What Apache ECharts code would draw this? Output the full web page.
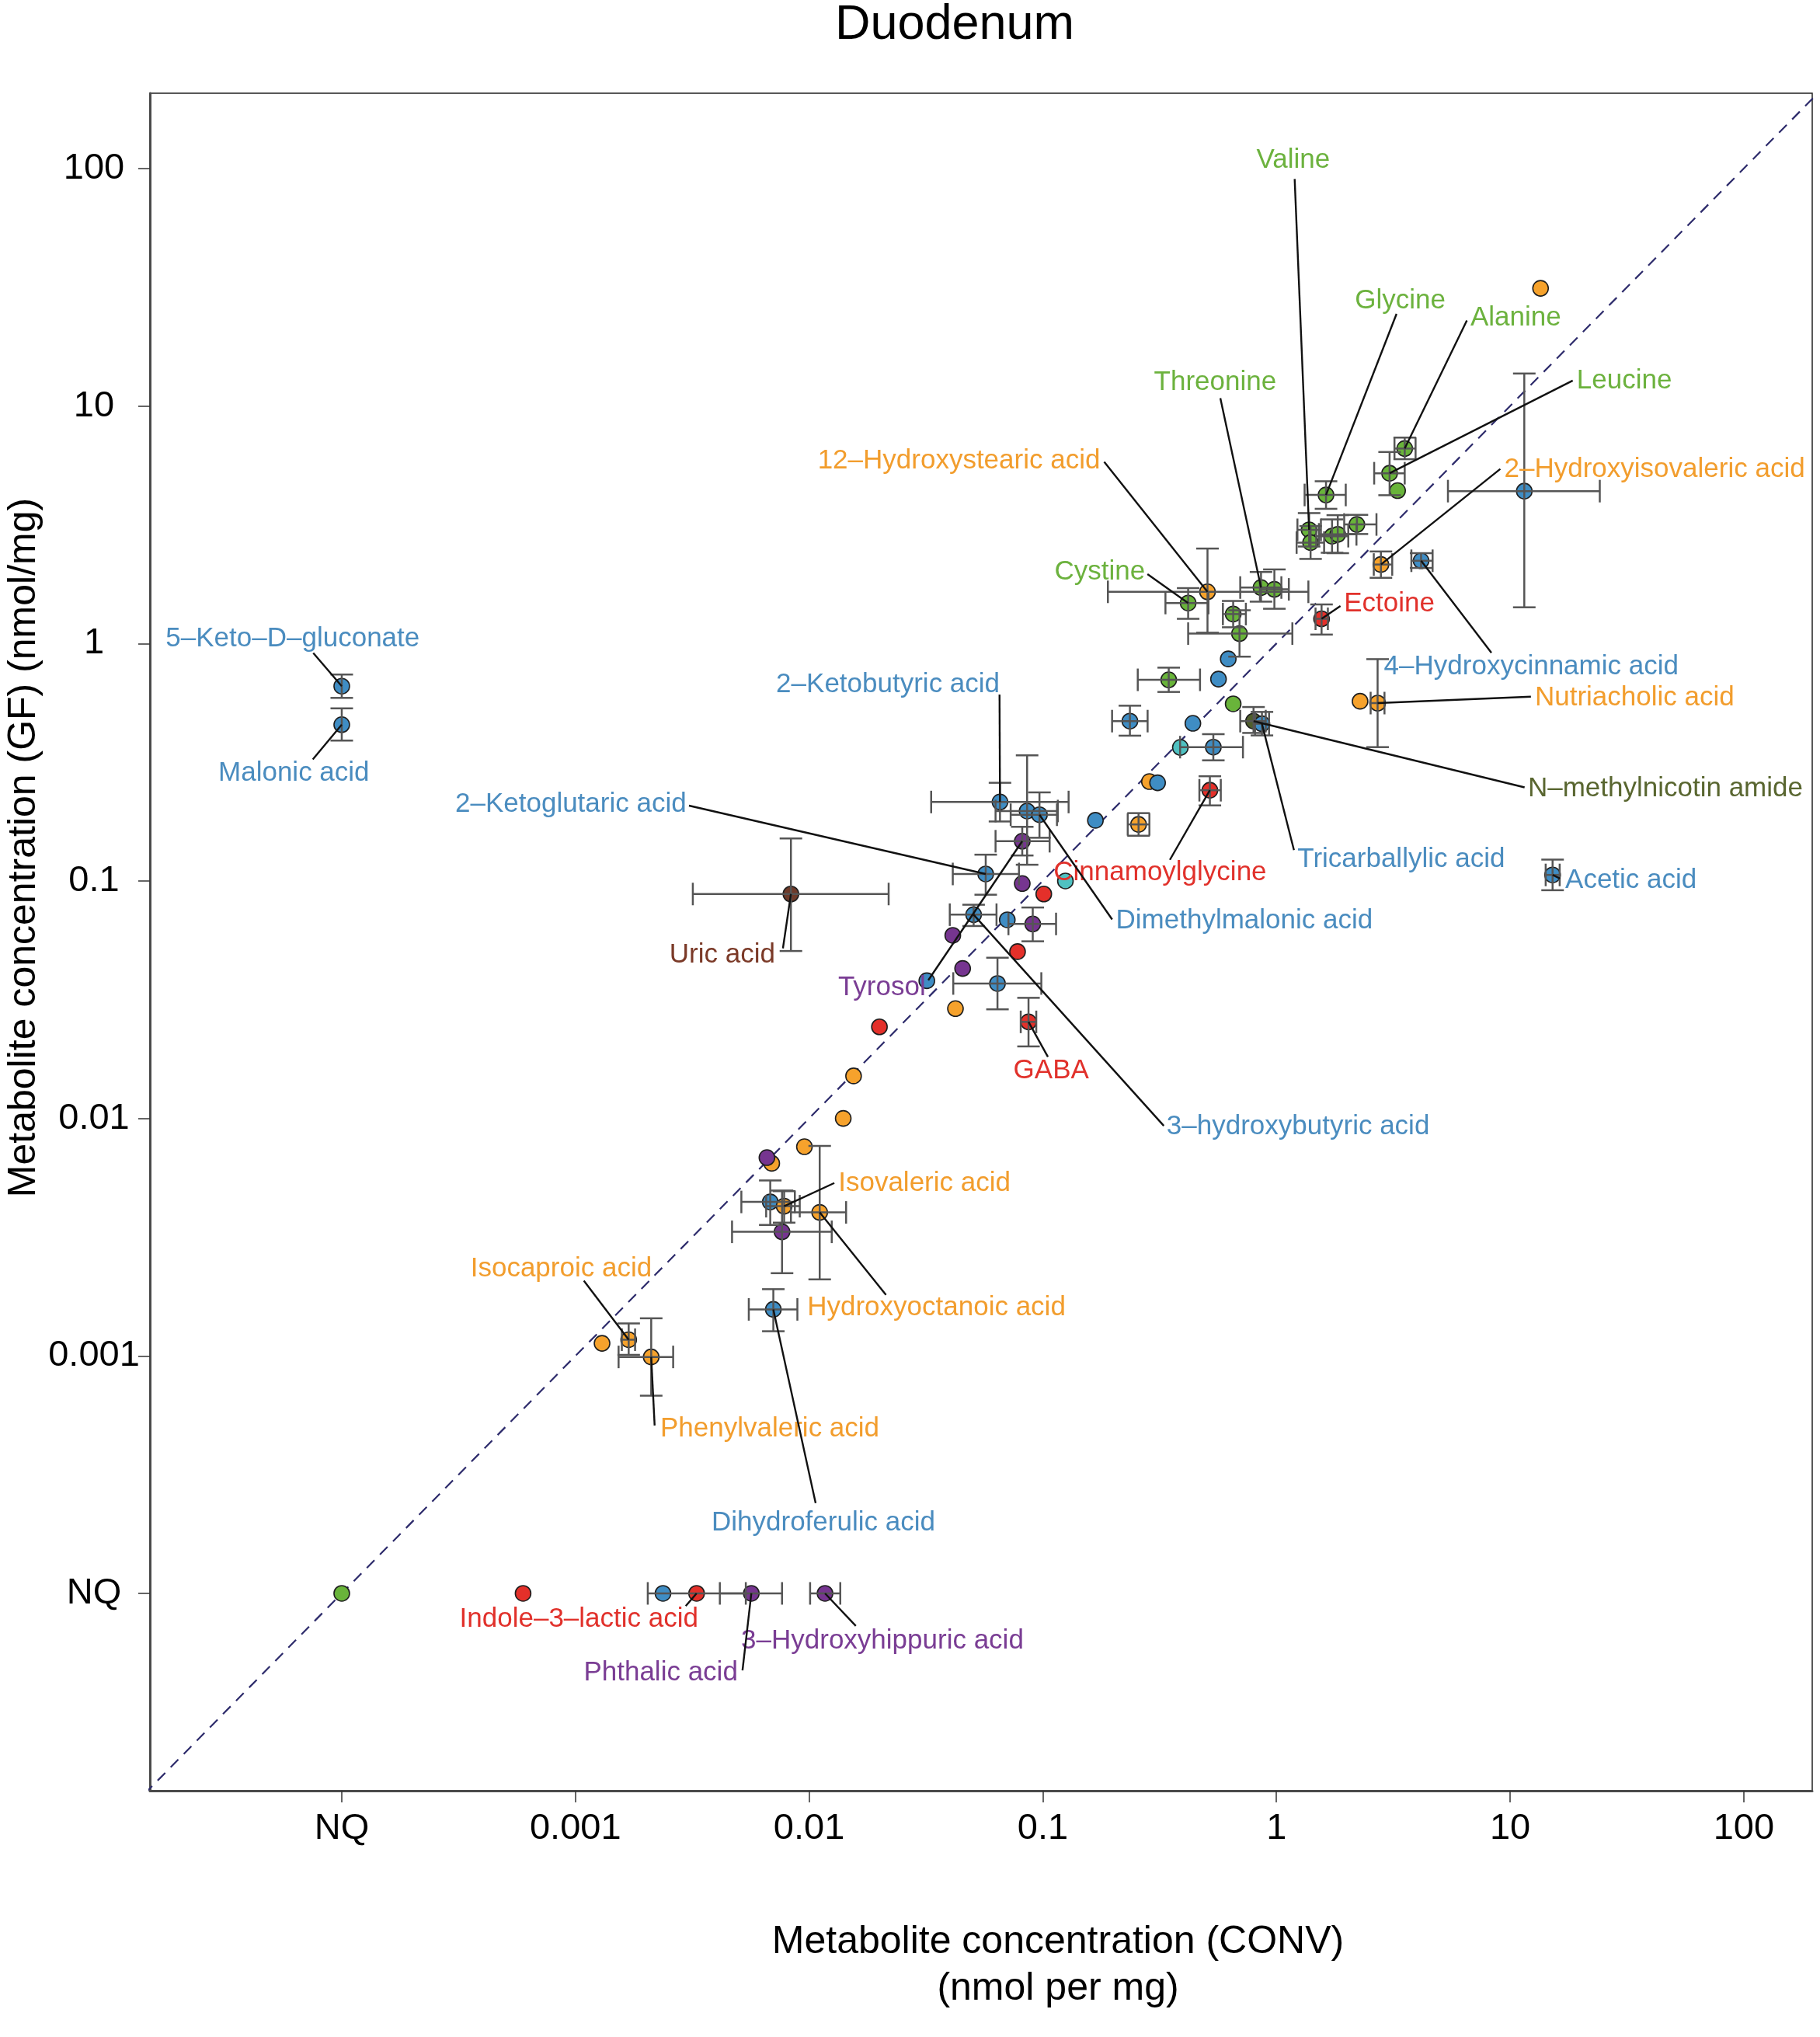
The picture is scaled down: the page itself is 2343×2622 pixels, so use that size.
<!DOCTYPE html>
<html><head><meta charset="utf-8">
<script src="https://cdn.jsdelivr.net/npm/echarts@6/dist/echarts.min.js"></script>
<style>html,body{margin:0;padding:0;background:#fff;}#c{width:2343px;height:2622px;}</style>
</head><body><div id="c"></div>
<script>
// ---------- data ----------
const NQ = 'NQ';
const NQ_POSITION = 1e-4;           // where "not quantified" values are placed
const tickValues = [1e-4, 1e-3, 1e-2, 1e-1, 1, 10, 100];
const tickLabels = ['NQ', '0.001', '0.01', '0.1', '1', '10', '100'];

const names = [
 'Valine','','','','','Glycine','Alanine','Leucine','','',
 '','2–Hydroxyisovaleric acid','4–Hydroxycinnamic acid','Threonine','','12–Hydroxystearic acid','Cystine','','','Ectoine',
 '','','','','','','N–methylnicotin amide','Tricarballylic acid','','Nutriacholic acid',
 '','','','','Cinnamoylglycine','','','2–Ketobutyric acid','','Dimethylmalonic acid',
 'Tyrosol','2–Ketoglutaric acid','','','','3–hydroxybutyric acid','','','','',
 '','','','','GABA','Uric acid','','','','',
 '','','','Isovaleric acid','Hydroxyoctanoic acid','','Dihydroferulic acid','','Isocaproic acid','Phenylvaleric acid',
 '5–Keto–D–gluconate','Malonic acid','','','','Indole–3–lactic acid','Phthalic acid','3–Hydroxyhippuric acid','Acetic acid'
];
const groups = [
 'G','G','G','G','G','G','G','G','G','B',
 'O','O','B','G','G','O','G','G','G','R',
 'B','G','B','G','B','B','V','B','O','O',
 'C','B','O','B','R','O','B','B','B','B',
 'P','B','P','R','C','B','B','P','P','R',
 'P','B','B','O','R','W','R','O','O','O',
 'O','P','B','O','O','P','B','O','O','O',
 'B','B','G','R','B','R','P','P','B'
];
const convValues = [
 1.38,1.40,1.73,1.83,2.21,1.63,3.54,3.05,3.30,11.5,
 13.5,2.80,4.16,0.859,0.98,0.507,0.419,0.653,0.695,1.56,
 0.622,0.346,0.565,0.653,0.236,0.439,0.798,0.867,2.28,2.71,
 0.388,0.537,0.286,0.310,0.519,0.257,0.168,0.0656,0.0857,0.0968,
 0.0817,0.0570,0.0817,0.101,0.125,0.0506,0.0705,0.0906,0.0412,0.078,
 0.0454,0.0319,0.064,0.0423,0.0869,0.00836,0.020,0.0155,0.0140,0.00955,
 0.00692,0.0066,0.00682,0.00782,0.0111,0.00766,0.00703,0.0013,0.00169,0.00211,
 NQ,NQ,NQ,0.000597,0.00237,0.0033,0.00566,0.0117,15.2
];
const gfValues = [
 3.01,2.66,2.83,2.88,3.17,4.22,6.62,5.21,4.40,4.38,
 31.3,2.15,2.23,1.72,1.69,1.65,1.48,1.33,1.10,1.27,
 0.861,0.703,0.708,0.557,0.471,0.461,0.471,0.459,0.571,0.561,
 0.365,0.366,0.262,0.259,0.241,0.173,0.180,0.215,0.197,0.190,
 0.147,0.107,0.0975,0.0881,0.100,0.0721,0.0686,0.0659,0.059,0.0504,
 0.0428,0.038,0.037,0.029,0.0255,0.0881,0.0243,0.0151,0.0100,0.0076,
 0.00647,0.00684,0.00445,0.00427,0.00402,0.00333,0.00157,0.00113,0.00117,0.00099,
 0.661,0.455,NQ,NQ,NQ,NQ,NQ,NQ,0.106
];
const convLow = [
 1.23,1.22,1.48,1.52,1.95,1.32,3.20,2.62,null,5.42,
 null,2.61,3.78,0.70,0.85,0.19,0.335,0.59,0.419,1.47,
 null,0.255,null,null,0.198,null,0.70,0.81,null,2.53,
 null,0.387,null,null,0.468,0.231,null,0.0333,0.0628,0.0729,
 0.0628,0.0412,null,null,null,0.040,null,0.0713,null,null,
 null,null,0.0414,null,0.0805,0.00318,null,null,null,null,
 null,null,0.00513,0.00655,0.00836,0.00468,0.00552,null,0.00158,0.00153,
 null,null,null,null,null,0.00204,0.00415,0.0101,14.2
];
const convHigh = [
 1.55,1.60,2.03,2.20,2.68,1.98,3.94,3.54,null,24.2,
 null,3.13,4.66,1.05,1.13,1.37,0.512,0.74,1.17,1.66,
 null,0.471,null,null,0.281,null,0.90,0.93,null,2.90,
 null,0.719,null,null,0.578,0.286,null,0.129,0.116,0.115,
 0.107,0.0791,null,null,null,0.0634,null,0.114,null,null,
 null,null,0.0986,null,0.0938,0.0219,null,null,null,null,
 null,null,0.00869,0.00912,0.0144,0.0125,0.00891,null,0.0018,0.00262,
 null,null,null,null,null,0.00536,0.00766,0.0136,16.3
];
const gfLow = [
 2.56,2.27,2.41,2.40,2.89,3.69,5.97,4.21,null,1.42,
 null,1.89,2.08,1.50,1.40,1.11,1.27,1.17,0.88,1.09,
 null,0.625,null,null,0.409,null,0.42,0.41,null,0.366,
 null,0.322,null,null,0.208,0.155,null,0.178,0.117,0.152,
 0.128,0.0875,null,null,null,0.0646,null,0.0557,null,null,
 null,null,0.0288,null,0.0201,0.0507,null,null,null,null,
 null,null,0.00356,0.00364,0.0021,0.00223,0.00127,null,0.00101,0.00068,
 0.59,0.39,null,null,null,null,null,null,0.0914
];
const gfHigh = [
 3.54,3.12,3.33,3.47,3.48,4.82,7.36,6.40,null,13.7,
 null,2.44,2.40,2.00,2.05,2.51,1.71,1.51,1.38,1.46,
 null,0.791,null,null,0.547,null,0.54,0.515,null,0.859,
 null,0.415,null,null,0.276,0.193,null,0.259,0.338,0.236,
 0.169,0.129,null,null,null,0.0794,null,0.0773,null,null,
 null,null,0.0475,null,0.0322,0.151,null,null,null,null,
 null,null,0.00548,0.00494,0.00766,0.00497,0.00191,null,0.00137,0.00144,
 0.74,0.533,null,null,null,null,null,null,0.123
];

// ---------- styles / layout ----------
const fillColors = {G:'#69b43a', B:'#3f8dc4', O:'#f6a22c', R:'#e4302a', P:'#763590', C:'#4fc1c1', V:'#4f5e2b', W:'#6e3a29'};
const textColors = {G:'#6cb23e', B:'#4a8cbf', O:'#f29d2d', R:'#e1312b', P:'#7a3d94', C:'#4fc1c1', V:'#596630', W:'#7b3a28'};
const FONT = '"Liberation Sans", Arial, Helvetica, sans-serif';

// label placement (log10 axis space): [name, textX, textY, align, lineStartX, lineStartY]
const labelLayout = [
 ['Valine', 0.072, 2.033, 'center', 0.078, 1.956],
 ['Glycine', 0.53, 1.443, 'center', 0.514, 1.388],
 ['Alanine', 0.83, 1.372, 'left', 0.815, 1.36],
 ['Threonine', -0.262, 1.098, 'center', -0.240, 1.033],
 ['Leucine', 1.285, 1.107, 'left', 1.268, 1.107],
 ['12–Hydroxystearic acid', -0.754, 0.770, 'right', -0.737, 0.765],
 ['2–Hydroxyisovaleric acid', 0.975, 0.732, 'left', 0.958, 0.735],
 ['Cystine', -0.562, 0.30, 'right', -0.552, 0.292],
 ['Ectoine', 0.289, 0.167, 'left', 0.274, 0.158],
 ['4–Hydroxycinnamic acid', 0.46, -0.098, 'left', 0.92, -0.039],
 ['Nutriacholic acid', 1.106, -0.229, 'left', 1.089, -0.224],
 ['5–Keto–D–gluconate', -4.21, 0.018, 'center', -4.122, -0.04],
 ['Malonic acid', -4.205, -0.548, 'center', -4.124, -0.488],
 ['2–Ketobutyric acid', -1.184, -0.175, 'right', -1.185, -0.215],
 ['2–Ketoglutaric acid', -2.525, -0.678, 'right', -2.514, -0.683],
 ['N–methylnicotin amide', 1.076, -0.611, 'left', 1.062, -0.606],
 ['Tricarballylic acid', 0.09, -0.911, 'left', 0.075, -0.87],
 ['Cinnamoylglycine', -0.498, -0.966, 'center', -0.456, -0.911],
 ['Acetic acid', 1.236, -0.998, 'left', 1.214, -0.99],
 ['Dimethylmalonic acid', -0.687, -1.167, 'left', -0.703, -1.162],
 ['Uric acid', -2.145, -1.311, 'right', -2.112, -1.284],
 ['Tyrosol', -1.501, -1.451, 'right', -1.49, -1.418],
 ['GABA', -0.964, -1.800, 'center', -0.978, -1.741],
 ['3–hydroxybutyric acid', -0.470, -2.034, 'left', -0.482, -2.031],
 ['Isovaleric acid', -1.875, -2.274, 'left', -1.892, -2.272],
 ['Hydroxyoctanoic acid', -2.008, -2.797, 'left', -1.671, -2.743],
 ['Isocaproic acid', -3.061, -2.634, 'center', -2.964, -2.683],
 ['Phenylvaleric acid', -2.637, -3.307, 'left', -2.661, -3.293],
 ['Dihydroferulic acid', -1.939, -3.705, 'center', -1.972, -3.62],
 ['Indole–3–lactic acid', -2.985, -4.108, 'center', -2.528, -4.053],
 ['3–Hydroxyhippuric acid', -2.291, -4.20, 'left', -1.80, -4.137],
 ['Phthalic acid', -2.305, -4.335, 'right', -2.285, -4.324]
];

// ---------- build ----------
function lg(v) { return v === NQ ? Math.log10(NQ_POSITION) : Math.log10(v); }
const tickPos = tickValues.map(v => Math.log10(v));
function tickFmt(v) {
  for (let i = 0; i < tickPos.length; i++) if (Math.abs(tickPos[i] - v) < 1e-6) return tickLabels[i];
  return '';
}
const X_MIN = -4.821, X_MAX = 2.293, Y_MIN = -4.831, Y_MAX = 2.317;

const pts = names.map((n, i) => [lg(convValues[i]), lg(gfValues[i])]);
const scatterData = pts.map((p, i) => ({value: p, itemStyle: {color: fillColors[groups[i]]}}));
const errData = [];
names.forEach((n, i) => {
  const x = pts[i][0], y = pts[i][1];
  const hasX = convLow[i] != null, hasY = gfLow[i] != null;
  if (!hasX && !hasY) return;
  errData.push([x, y,
    hasX ? Math.log10(convLow[i]) : x, hasX ? Math.log10(convHigh[i]) : x,
    hasY ? Math.log10(gfLow[i]) : y, hasY ? Math.log10(gfHigh[i]) : y]);
});
const labelData = [], labelMeta = [];
labelLayout.forEach(l => {
  const i = names.indexOf(l[0]);
  labelData.push([l[1], l[2], l[4], l[5], pts[i][0], pts[i][1]]);
  labelMeta.push({text: l[0], align: l[3], color: textColors[groups[i]]});
});

const chart = echarts.init(document.getElementById('c'), null, {renderer: 'canvas'});
const axisCommon = {
  type: 'value', splitLine: {show: false},
  axisLine: {show: true, onZero: false, lineStyle: {color: '#4a4a4a', width: 3}},
  axisTick: {show: true, length: 15, customValues: tickPos, lineStyle: {color: '#333', width: 1.5}},
};
chart.setOption({
  backgroundColor: '#fff',
  animation: false,
  grid: {left: 193, top: 120, width: 2140, height: 2185, show: true, borderColor: '#222', borderWidth: 1.5},
  xAxis: Object.assign({}, axisCommon, {
    min: X_MIN, max: X_MAX,
    axisLabel: {customValues: tickPos, formatter: tickFmt, margin: 26, color: '#000', fontSize: 47, fontFamily: FONT}
  }),
  yAxis: Object.assign({}, axisCommon, {
    min: Y_MIN, max: Y_MAX,
    axisLabel: {customValues: tickPos, formatter: tickFmt, margin: 72, align: 'center', color: '#000', fontSize: 47, fontFamily: FONT}
  }),
  graphic: [
    {type: 'text', x: 1229, y: 33, style: {text: 'Duodenum', fill: '#000', font: '63px ' + FONT, align: 'center', verticalAlign: 'middle'}},
    {type: 'text', x: 1362, y: 2500, style: {text: 'Metabolite concentration (CONV)', fill: '#000', font: '50px ' + FONT, align: 'center', verticalAlign: 'middle'}},
    {type: 'text', x: 1362, y: 2560, style: {text: '(nmol per mg)', fill: '#000', font: '50px ' + FONT, align: 'center', verticalAlign: 'middle'}},
    {type: 'text', x: 31, y: 1091, rotation: Math.PI / 2, style: {text: 'Metabolite concentration (GF) (nmol/mg)', fill: '#000', font: '50px ' + FONT, align: 'center', verticalAlign: 'middle'}}
  ],
  series: [
    {type: 'line', data: [[-4.9, -4.9], [2.4, 2.4]], symbol: 'none', clip: true, z: 1, silent: true,
     lineStyle: {color: '#2d2b6b', width: 2.2, type: [14, 10]}},
    {type: 'scatter', data: scatterData, symbol: 'circle', symbolSize: 20, z: 2,
     itemStyle: {borderColor: '#1e1e1e', borderWidth: 1.6, opacity: 1}},
    {type: 'custom', data: errData, z: 3, encode: {x: 0, y: 1},
     renderItem: function (params, api) {
       const x = api.value(0), y = api.value(1);
       const xl = api.value(2), xh = api.value(3), yl = api.value(4), yh = api.value(5);
       const cap = 14.5, st = {stroke: '#555', lineWidth: 2.5};
       const ch = [];
       if (xh - xl > 1e-9) {
         const a = api.coord([xl, y]), b = api.coord([xh, y]);
         ch.push({type: 'line', shape: {x1: a[0], y1: a[1], x2: b[0], y2: b[1]}, style: st});
         ch.push({type: 'line', shape: {x1: a[0], y1: a[1] - cap, x2: a[0], y2: a[1] + cap}, style: st});
         ch.push({type: 'line', shape: {x1: b[0], y1: b[1] - cap, x2: b[0], y2: b[1] + cap}, style: st});
       }
       if (yh - yl > 1e-9) {
         const a = api.coord([x, yl]), b = api.coord([x, yh]);
         ch.push({type: 'line', shape: {x1: a[0], y1: a[1], x2: b[0], y2: b[1]}, style: st});
         ch.push({type: 'line', shape: {x1: a[0] - cap, y1: a[1], x2: a[0] + cap, y2: a[1]}, style: st});
         ch.push({type: 'line', shape: {x1: b[0] - cap, y1: b[1], x2: b[0] + cap, y2: b[1]}, style: st});
       }
       return {type: 'group', children: ch};
     }},
    {type: 'custom', data: labelData, z: 4, encode: {x: 0, y: 1},
     renderItem: function (params, api) {
       const m = labelMeta[params.dataIndex];
       const t = api.coord([api.value(0), api.value(1)]);
       const s = api.coord([api.value(2), api.value(3)]);
       const p = api.coord([api.value(4), api.value(5)]);
       return {type: 'group', children: [
         {type: 'line', shape: {x1: s[0], y1: s[1], x2: p[0], y2: p[1]}, style: {stroke: '#111', lineWidth: 2.4}},
         {type: 'text', x: t[0], y: t[1], style: {text: m.text, fill: m.color, font: '35px ' + FONT, align: m.align, verticalAlign: 'middle'}}
       ]};
     }}
  ]
});
</script></body></html>
